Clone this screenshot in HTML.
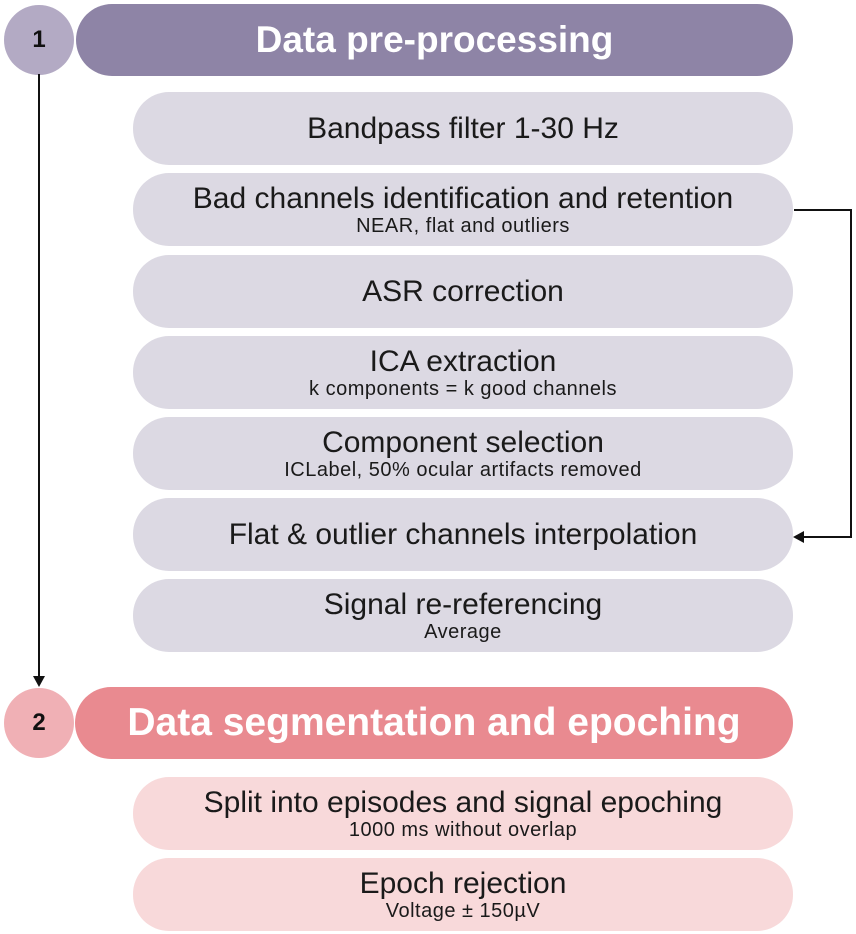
<!DOCTYPE html>
<html><head><style>
body{margin:0;width:856px;height:934px;background:#fff;position:relative;font-family:"Liberation Sans",sans-serif;overflow:hidden}
.c{position:absolute;border-radius:50%;font-weight:bold;font-size:24px;display:flex;align-items:center;justify-content:center;color:#111}
.h{position:absolute;left:76px;width:717px;height:72px;border-radius:36px;color:#fff;font-weight:bold;font-size:37px;display:flex;align-items:center;justify-content:center}
.b{position:absolute;left:133px;width:660px;height:73px;border-radius:36px;background:#dcd9e3;display:flex;flex-direction:column;align-items:center;justify-content:center;color:#1a1a1a;font-size:30px;line-height:33px}
.b small{font-size:20px;line-height:23px;letter-spacing:0.5px}
.p{background:#f8d9da}
</style></head><body>
<div class="h" style="top:4px;background:#8e84a6">Data pre-processing</div>
<div class="c" style="left:4px;top:5px;width:70px;height:70px;background:#b3aac4">1</div>
<div class="b" style="top:92px">Bandpass filter 1-30 Hz</div>
<div class="b" style="top:173px">Bad channels identification and retention<small>NEAR, flat and outliers</small></div>
<div class="b" style="top:255px">ASR correction</div>
<div class="b" style="top:336px">ICA extraction<small>k components = k good channels</small></div>
<div class="b" style="top:417px">Component selection<small>ICLabel, 50% ocular artifacts removed</small></div>
<div class="b" style="top:498px">Flat &amp; outlier channels interpolation</div>
<div class="b" style="top:579px">Signal re-referencing<small>Average</small></div>
<div class="h" style="top:687px;background:#e98a90;left:75px;width:718px;font-size:39px">Data segmentation and epoching</div>
<div class="c" style="left:4px;top:688px;width:70px;height:70px;background:#f0b0b5">2</div>
<div class="b p" style="top:777px">Split into episodes and signal epoching<small>1000 ms without overlap</small></div>
<div class="b p" style="top:858px">Epoch rejection<small>Voltage ± 150µV</small></div>
<svg width="856" height="934" style="position:absolute;left:0;top:0">
<line x1="39" y1="74" x2="39" y2="676" stroke="#111" stroke-width="2"/>
<polygon points="33,676 45,676 39,687" fill="#111"/>
<polyline points="794,210 851,210 851,537 804,537" fill="none" stroke="#111" stroke-width="2"/>
<polygon points="804,531 804,543 793,537" fill="#111"/>
</svg>
</body></html>
